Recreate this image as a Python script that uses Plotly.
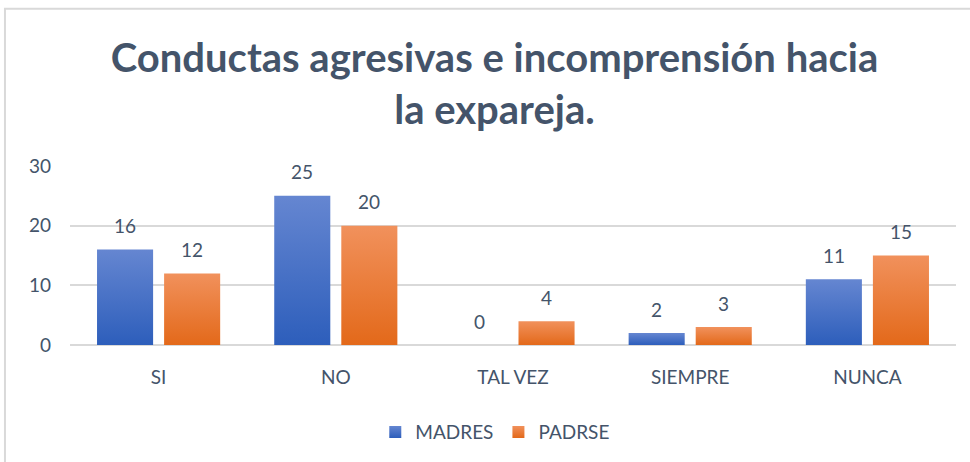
import plotly.graph_objects as go

categories = ["SI", "NO", "TAL VEZ", "SIEMPRE", "NUNCA"]
madres = [16, 25, 0, 2, 11]
padres = [12, 20, 4, 3, 15]
series_names = ["MADRES", "PADRSE"]
y_ticks = [0, 10, 20, 30]
title_text = "Conductas agresivas e incomprensión hacia<br>la expareja."

BLUE = "#4472C4"
ORANGE = "#ED7D31"
TXT = "#44546A"
FONT = "Lato"

fig = go.Figure()
fig.add_trace(go.Bar(x=categories, y=madres, name=series_names[0],
                     marker=dict(color=BLUE, line=dict(width=0))))
fig.add_trace(go.Bar(x=categories, y=padres, name=series_names[1],
                     marker=dict(color=ORANGE, line=dict(width=0))))

# data labels
offset_px = 33.5
for vals, sh in ((madres, -offset_px), (padres, offset_px)):
    for c, v in zip(categories, vals):
        fig.add_annotation(x=c, y=v, text=str(v), showarrow=False,
                           xshift=sh, yshift=24, yanchor="middle",
                           font=dict(family=FONT, size=19, color=TXT))

# outer chart border
fig.add_shape(type="rect", xref="paper", yref="paper",
              x0=-0.0734, x1=1.2, y0=-1.0, y1=1.878,
              line=dict(color="#D9D9D9", width=2), fillcolor="rgba(0,0,0,0)",
              layer="below")

fig.update_layout(
    width=970, height=462,
    margin=dict(l=70, r=14, t=166, b=116),
    paper_bgcolor="white", plot_bgcolor="white",
    barmode="group", bargap=0.243, bargroupgap=0.164,
    title=dict(text=title_text, xref="container", x=494.5 / 970, xanchor="center",
               yref="container", y=1 - 72 / 462, yanchor="middle",
               font=dict(family=FONT, size=40, color=TXT, weight="bold")),
    font=dict(family=FONT, size=19, color=TXT),
    showlegend=True,
    legend=dict(orientation="h", x=0.48, xanchor="center", y=-0.478,
                yanchor="middle", font=dict(family=FONT, size=19, color=TXT),
                bgcolor="rgba(0,0,0,0)"),
    xaxis=dict(showgrid=False, showline=False, zeroline=False,
               ticks="", ticklabelstandoff=19,
               tickfont=dict(family=FONT, size=19, color=TXT)),
    yaxis=dict(range=[0, 30], tickvals=y_ticks, showgrid=True,
               gridcolor="#D9D9D9", gridwidth=1.5, zeroline=True,
               zerolinecolor="#D9D9D9", zerolinewidth=1.5, showline=False,
               ticks="", ticklabelstandoff=18,
               tickfont=dict(family=FONT, size=19, color=TXT)),
)

post = """
(function(){
  document.body.style.margin = '0';
  var gd = document.getElementById('{plot_id}');
  function apply(){
    var svg = gd.querySelector('svg.main-svg');
    if(!svg) return;
    var defs = svg.querySelector('defs');
    if(!defs){ defs = document.createElementNS('http://www.w3.org/2000/svg','defs'); svg.insertBefore(defs, svg.firstChild); }
    function mk(id, top, bot){
      if(document.getElementById(id)) return;
      var g = document.createElementNS('http://www.w3.org/2000/svg','linearGradient');
      g.setAttribute('id', id); g.setAttribute('x1','0'); g.setAttribute('y1','0');
      g.setAttribute('x2','0'); g.setAttribute('y2','1');
      [[0, top],[1, bot]].forEach(function(s){
        var st = document.createElementNS('http://www.w3.org/2000/svg','stop');
        st.setAttribute('offset', s[0]); st.setAttribute('stop-color', s[1]);
        g.appendChild(st);
      });
      defs.appendChild(g);
    }
    mk('gradBlue', '#6586D1', '#2D5EBB');
    mk('gradOrange', '#F1915C', '#E3691A');
    var paths = gd.querySelectorAll('path');
    paths.forEach(function(p){
      var f = p.style.fill;
      if(f === 'rgb(68, 114, 196)') p.style.fill = 'url(#gradBlue)';
      else if(f === 'rgb(237, 125, 49)') p.style.fill = 'url(#gradOrange)';
    });
  }
  apply();
  if(gd.on) gd.on('plotly_afterplot', apply);
  setTimeout(apply, 50);
})();
"""

fig.write_html("out.html", post_script=post, config={"displayModeBar": False})
